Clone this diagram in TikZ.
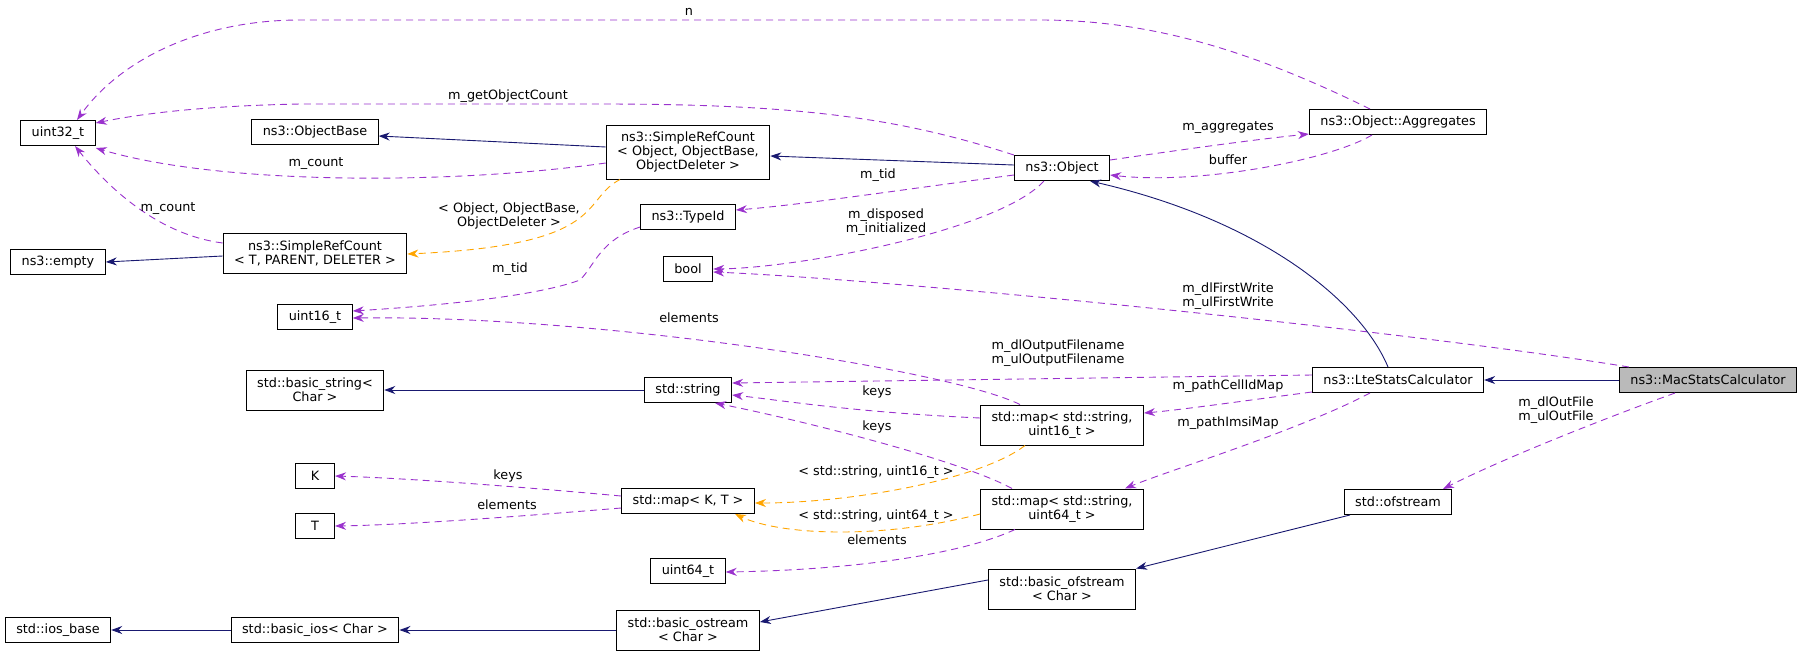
\documentclass[tikz,border=0pt]{standalone}
\usepackage{fontspec}
\setmainfont{DejaVu Sans}
\usetikzlibrary{arrows.meta,calc}
\definecolor{nav}{HTML}{191970}
\definecolor{pur}{HTML}{9A32CD}
\definecolor{org}{HTML}{FFA500}
\begin{document}
\begin{tikzpicture}[x=1pt,y=-1pt,
  box/.style={draw,line width=1pt,fill=white,inner xsep=11pt,inner ysep=3pt,minimum height=25pt,align=center,font=\fontsize{12.8}{14}\selectfont},
  two/.style={minimum height=40pt},
  three/.style={minimum height=54pt},
  lbl/.style={align=center,font=\fontsize{12.8}{14}\selectfont},
  inh/.style={nav,line width=0.9pt,-{Stealth[length=11pt,width=8pt]}},
  use/.style={pur,line width=0.9pt,dash pattern=on 7pt off 5pt,-{Stealth[length=11pt,width=8pt]}},
  tpl/.style={org,line width=0.9pt,dash pattern=on 7pt off 5pt,-{Stealth[length=11pt,width=8pt]}}]
\useasboundingbox (0,0) rectangle (1803,656);
% nodes
\node[box] (u32) at (58,133) {uint32\_t};
\node[box] (ob) at (315,132) {ns3::ObjectBase};
\node[box,three] (src) at (688,152) {ns3::SimpleRefCount\\< Object, ObjectBase,\\ObjectDeleter >};
\node[box] (obj) at (1062,168) {ns3::Object};
\node[box] (agg) at (1398,122) {ns3::Object::Aggregates};
\node[box] (emp) at (58,262) {ns3::empty};
\node[box,two] (srct) at (315,253) {ns3::SimpleRefCount\\< T, PARENT, DELETER >};
\node[box] (tid) at (688,217) {ns3::TypeId};
\node[box] (bool) at (688,269) {bool};
\node[box] (u16) at (315,317) {uint16\_t};
\node[box,two] (bstr) at (315,390) {std::basic\_string<\\Char >};
\node[box] (str) at (688,390) {std::string};
\node[box,two] (m16) at (1062,425) {std::map< std::string,\\uint16\_t >};
\node[box] (lte) at (1398,380) {ns3::LteStatsCalculator};
\node[box,fill=black!27] (mac) at (1708,380) {ns3::MacStatsCalculator};
\node[box,minimum width=39pt] (K) at (315,476) {K};
\node[box,minimum width=39pt] (T) at (315,526) {T};
\node[box] (mkt) at (688,501) {std::map< K, T >};
\node[box,two] (m64) at (1062,509) {std::map< std::string,\\uint64\_t >};
\node[box] (ofs) at (1398,502) {std::ofstream};
\node[box] (u64) at (688,571) {uint64\_t};
\node[box,two] (bofs) at (1062,589) {std::basic\_ofstream\\< Char >};
\node[box] (iob) at (58,630) {std::ios\_base};
\node[box] (bios) at (315,630) {std::basic\_ios< Char >};
\node[box,two] (bost) at (688,630) {std::basic\_ostream\\< Char >};
% edges
\draw[use] ($(agg.north)+(-28,0)$) .. controls (1250,50) and (1150,20) .. (1040,20) -- (300,20) .. controls (200,20) and (120,60) .. ($(u32.north)+(19,0)$);
\draw[use] (obj.north west) .. controls (900,118) and (800,104) .. (600,104) -- (300,104) .. controls (200,106) and (140,114) .. ($(u32.east)+(0,-10)$);
\draw[use] ($(src.west)+(0,11)$) .. controls (450,185) and (220,185) .. ($(u32.east)+(0,15)$);
\draw[use] ($(srct.west)+(0,-10)$) .. controls (160,235) and (110,190) .. ($(u32.south)+(17,0)$);
\draw[inh] ($(src.west)+(0,-5)$) -- ($(ob.east)+(0,4)$);
\draw[inh] ($(obj.west)+(0,-3)$) -- ($(src.east)+(0,4)$);
\draw[use] ($(obj.east)+(0,-8)$) .. controls (1180,150) and (1250,140) .. ($(agg.west)+(0,12)$);
\draw[use] ($(agg.south)+(-26,0)$) .. controls (1330,160) and (1200,185) .. ($(obj.east)+(0,7)$);
\draw[use] ($(obj.west)+(0,7)$) .. controls (900,190) and (800,205) .. ($(tid.east)+(0,-7)$);
\draw[use] ($(obj.south west)+(30,0)$) .. controls (1000,230) and (800,268) .. (bool.east);
\draw[tpl] ($(src.south)+(-68,0)$) .. controls (580,200) and (610,245) .. ($(srct.east)+(0,1)$);
\draw[inh] ($(srct.west)+(0,3)$) -- (emp.east);
\draw[use] ($(tid.west)+(0,10)$) .. controls (600,240) and (595,265) .. (580,280) .. controls (540,295) and (450,305) .. ($(u16.east)+(0,-6)$);
\draw[use] ($(mac.north west)+(10,0)$) .. controls (1400,330) and (900,280) .. ($(bool.east)+(0,3)$);
\draw[use] ($(m16.north)+(-42,0)$) .. controls (950,370) and (600,315) .. ($(u16.east)+(0,1)$);
\draw[use] ($(lte.west)+(0,-5)$) -- ($(str.east)+(0,-7)$);
\draw[inh] (str.west) -- (str.west-|bstr.east);
\draw[use] ($(m16.west)+(0,-7)$) .. controls (850,412) and (780,400) .. ($(str.east)+(0,5)$);
\draw[use] ($(m64.north)+(-50,0)$) .. controls (960,460) and (800,420) .. ($(str.south)+(27,0)$);
\draw[use] ($(lte.west)+(0,12)$) .. controls (1250,400) and (1180,410) .. ($(m16.east)+(0,-12)$);
\draw[use] ($(lte.south)+(-28,0)$) .. controls (1300,430) and (1170,470) .. ($(m64.north)+(63,0)$);
\draw[inh] ($(lte.north)+(-10,0)$) .. controls (1360,300) and (1260,220) .. ($(obj.south)+(28,0)$);
\draw[inh] (mac.west) -- (lte.east);
\draw[use] ($(mac.south)+(-33,0)$) .. controls (1600,420) and (1500,460) .. ($(ofs.north)+(45,0)$);
\draw[use] ($(mkt.west)+(0,-5)$) .. controls (500,485) and (400,478) .. (K.east);
\draw[use] ($(mkt.west)+(0,7)$) .. controls (500,518) and (400,525) .. (T.east);
\draw[tpl] ($(m16.south)+(-37,0)$) .. controls (980,480) and (850,503) .. ($(mkt.east)+(0,2)$);
\draw[tpl] ($(m64.west)+(0,5)$) .. controls (880,540) and (780,535) .. ($(mkt.south)+(47,0)$);
\draw[use] ($(m64.south)+(-47,0)$) .. controls (960,555) and (850,570) .. ($(u64.east)+(0,1)$);
\draw[inh] ($(ofs.south)+(-48,0)$) -- (bofs.north east);
\draw[inh] ($(bofs.west)+(0,-9)$) -- ($(bost.east)+(0,-8)$);
\draw[inh] (bost.west) -- (bios.east);
\draw[inh] (bios.west) -- (iob.east);
% labels
\node[lbl] at (689,12) {n};
\node[lbl] at (508,96) {m\_getObjectCount};
\node[lbl] at (316,164) {m\_count};
\node[lbl] at (168,209) {m\_count};
\node[lbl] at (1228,128) {m\_aggregates};
\node[lbl] at (1228,160) {buffer};
\node[lbl] at (878,175) {m\_tid};
\node[lbl] at (886,222) {m\_disposed\\m\_initialized};
\node[lbl] at (509,216) {< Object, ObjectBase,\\ObjectDeleter >};
\node[lbl] at (510,269) {m\_tid};
\node[lbl] at (1228,296) {m\_dlFirstWrite\\m\_ulFirstWrite};
\node[lbl] at (689,318) {elements};
\node[lbl] at (1058,353) {m\_dlOutputFilename\\m\_ulOutputFilename};
\node[lbl] at (877,392) {keys};
\node[lbl] at (877,427) {keys};
\node[lbl] at (1228,386) {m\_pathCellIdMap};
\node[lbl] at (1228,423) {m\_pathImsiMap};
\node[lbl] at (1556,410) {m\_dlOutFile\\m\_ulOutFile};
\node[lbl] at (508,476) {keys};
\node[lbl] at (507,505) {elements};
\node[lbl] at (876,472) {< std::string, uint16\_t >};
\node[lbl] at (876,516) {< std::string, uint64\_t >};
\node[lbl] at (877,540) {elements};
\end{tikzpicture}
\end{document}
